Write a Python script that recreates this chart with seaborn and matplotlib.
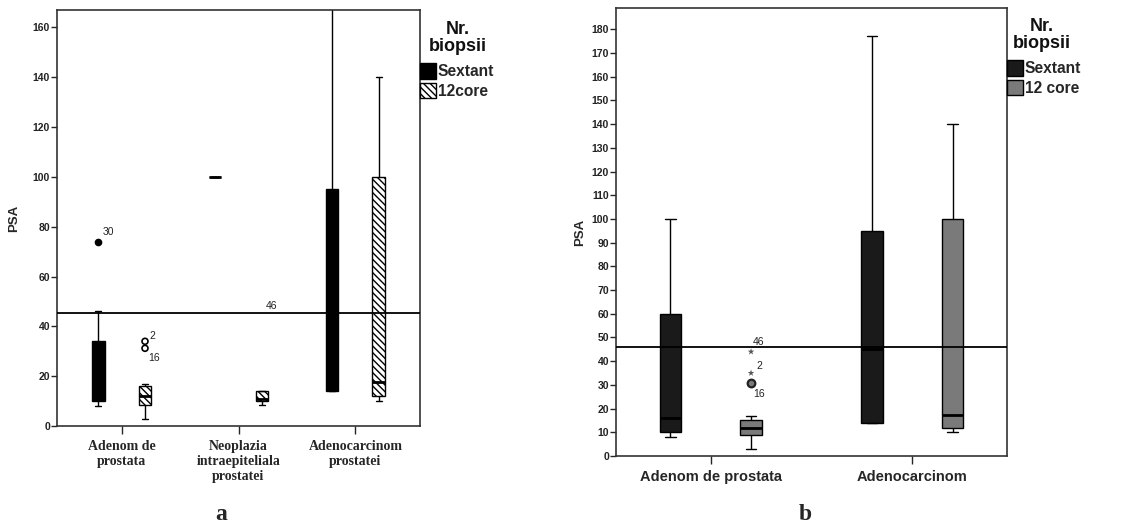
import numpy as np
import pandas as pd
import seaborn as sns
import matplotlib.pyplot as plt
from matplotlib.patches import Patch

# ---- panel a ----
a_groups = ["Adenom de\nprostata", "Neoplazia\nintraepiteliala\nprostatei", "Adenocarcinom\nprostatei"]
a_biopsy = ["Sextant", "12core"]
# min, Q1, median, Q3, max per group
a_sextant = [[8, 10, 16, 34, 46], [100], [14, 14, 45, 95, 177]]
a_12core = [[3, 8.5, 12, 16, 17], [8.5, 10, 11, 14, 14], [10, 12, 17.5, 100, 140]]
a_out_group = [a_groups[0]] * 3
a_out_biopsy = ["Sextant", "12core", "12core"]
a_out_psa = [74, 34, 31.2]
a_out_label = ["30", "2", "16"]
a_ref = 45.5

# ---- panel b ----
b_groups = ["Adenom de prostata", "Adenocarcinom"]
b_biopsy = ["Sextant", "12 core"]
b_sextant = [[8, 10, 16, 60, 100], [14, 14, 45, 95, 177]]
b_12core = [[3, 9, 12, 15, 17], [10, 12, 17.5, 100, 140]]
b_out_group = [b_groups[0]] * 3
b_out_biopsy = ["12 core"] * 3
b_out_psa = [44, 35, 31]
b_out_label = ["46", "2", "16"]
b_ref = 46


def long_df(groups, biopsy, s1, s2):
    rows = []
    for g, v1, v2 in zip(groups, s1, s2):
        rows += [(g, biopsy[0], v) for v in v1]
        rows += [(g, biopsy[1], v) for v in v2]
    return pd.DataFrame(rows, columns=["group", "biopsy", "PSA"])


sns.set_theme(style="white")
plt.rcParams["font.family"] = ["Liberation Sans", "DejaVu Sans"]
plt.rcParams["hatch.linewidth"] = 1.0
plt.rcParams["hatch.color"] = "black"

fig = plt.figure(figsize=(11.25, 5.28), dpi=100)
ax_a = fig.add_axes([57 / 1125, 102 / 528, 363 / 1125, 416 / 528])
ax_b = fig.add_axes([616 / 1125, 72 / 528, 391 / 1125, 448 / 528])


def draw_boxes(ax, df, groups, biopsy, pal):
    sns.boxplot(data=df, x="group", y="PSA", hue="biopsy", order=groups,
                hue_order=biopsy, palette=pal, whis=np.inf, width=0.8, gap=0.73,
                linewidth=1, linecolor="black", showfliers=False, legend=False,
                medianprops=dict(color="black", linewidth=2), ax=ax)


def draw_outliers(ax, df, groups, biopsy, labels, offsets, **kw):
    n0 = len(ax.collections)
    sns.stripplot(data=df, x="group", y="PSA", hue="biopsy", order=groups,
                  hue_order=biopsy, dodge=True, jitter=False, legend=False,
                  ax=ax, zorder=4, **kw)
    lab = dict(zip(df["PSA"], labels))
    off = dict(zip(df["PSA"], offsets))
    for coll in ax.collections[n0:]:
        for x, y in coll.get_offsets():
            if y in lab:
                ax.annotate(lab[y], (x, y), xytext=off[y], textcoords="offset points",
                            fontsize=7.5, ha="left", va="center", color="#222")


def style_axis(ax, xlim, ylim, yticks, xfont, labelpad):
    ax.set_xlim(*xlim)
    ax.set_ylim(*ylim)
    ax.set_yticks(yticks)
    ax.set_xlabel("")
    ax.set_ylabel("PSA", fontsize=9.5, fontweight="bold", labelpad=labelpad)
    ax.tick_params(axis="y", direction="out", length=4, width=1, labelsize=7.5,
                   left=True, pad=1)
    ax.tick_params(axis="x", direction="out", length=6, width=1, bottom=True, pad=4)
    for t in ax.get_yticklabels():
        t.set_fontweight("bold")
        t.set_color("#222")
    for t in ax.get_xticklabels():
        t.set_fontproperties(xfont)
    for s in ax.spines.values():
        s.set_color("#333")
        s.set_linewidth(1.2)


def add_legend(ax, handles, labels, title_x, title_y, entries_y):
    ax.text(title_x, title_y, "Nr.\nbiopsii", transform=ax.transAxes, ha="center",
            va="center", multialignment="center", fontsize=13, fontweight="bold",
            linespacing=1.05, color="#111")
    ax.legend(handles, labels, loc="upper left", bbox_to_anchor=(1.0, entries_y),
              frameon=False, borderaxespad=0, borderpad=0,
              prop=dict(weight="bold", size=11.2), handlelength=1.05,
              handleheight=1.15, handletextpad=0.1, labelspacing=0.22)


# panel a
df_a = long_df(a_groups, a_biopsy, a_sextant, a_12core)
draw_boxes(ax_a, df_a, a_groups, a_biopsy, {"Sextant": "black", "12core": "white"})
for p in ax_a.patches:
    if p.get_facecolor()[0] > 0.9:
        p.set_hatch("\\\\\\\\\\")
ax_a.axhline(a_ref, color="black", lw=1.3, zorder=3)
out_a = pd.DataFrame({"group": a_out_group, "biopsy": a_out_biopsy, "PSA": a_out_psa})
draw_outliers(ax_a, out_a, a_groups, a_biopsy, a_out_label,
              [(3.5, 7), (3, 4), (2.5, -7)],
              palette={"Sextant": "black", "12core": "white"},
              marker="o", size=4.3, linewidth=1.2, edgecolor="black")
ax_a.text(1.28, 48, "46", fontsize=7.5, ha="center", va="center", color="#222")
style_axis(ax_a, (-0.553, 2.553), (0, 167), range(0, 161, 20),
           dict(family="Liberation Serif", weight="bold", size=10), 9)
add_legend(ax_a,
           [Patch(facecolor="black", edgecolor="black"),
            Patch(facecolor="white", edgecolor="black", hatch="\\\\\\\\\\")],
           a_biopsy, 1.103, 0.933, 0.872)

# panel b
df_b = long_df(b_groups, b_biopsy, b_sextant, b_12core)
pal_b = {"Sextant": "#1a1a1a", "12 core": "#7a7a7a"}
draw_boxes(ax_b, df_b, b_groups, b_biopsy, pal_b)
ax_b.axhline(b_ref, color="black", lw=1.3, zorder=3)
out_b = pd.DataFrame({"group": b_out_group, "biopsy": b_out_biopsy, "PSA": b_out_psa})
stars = out_b["PSA"] > 33
draw_outliers(ax_b, out_b[stars], b_groups, b_biopsy,
              [l for l, s in zip(b_out_label, stars) if s], [(1.5, 7), (4, 5)],
              palette={"Sextant": "#555", "12 core": "#555"},
              marker="*", size=5, linewidth=0)
draw_outliers(ax_b, out_b[~stars], b_groups, b_biopsy,
              [l for l, s in zip(b_out_label, stars) if not s], [(1.5, -8)],
              palette=pal_b, marker="o", size=5.5, linewidth=1.6, edgecolor="#222")
style_axis(ax_b, (-0.47, 1.47), (0, 189), range(0, 181, 10),
           dict(family="Liberation Sans", weight="bold", size=10.5), 4)
add_legend(ax_b, [Patch(facecolor=pal_b[k], edgecolor="black") for k in b_biopsy],
           b_biopsy, 1.09, 0.94, 0.883)

fig.text(221 / 1125, 1 - 515 / 528, "a", ha="center", va="center",
         family="Liberation Serif", weight="bold", size=17)
fig.text(805 / 1125, 1 - 515 / 528, "b", ha="center", va="center",
         family="Liberation Serif", weight="bold", size=17)

fig.savefig("out.png", dpi=100)
